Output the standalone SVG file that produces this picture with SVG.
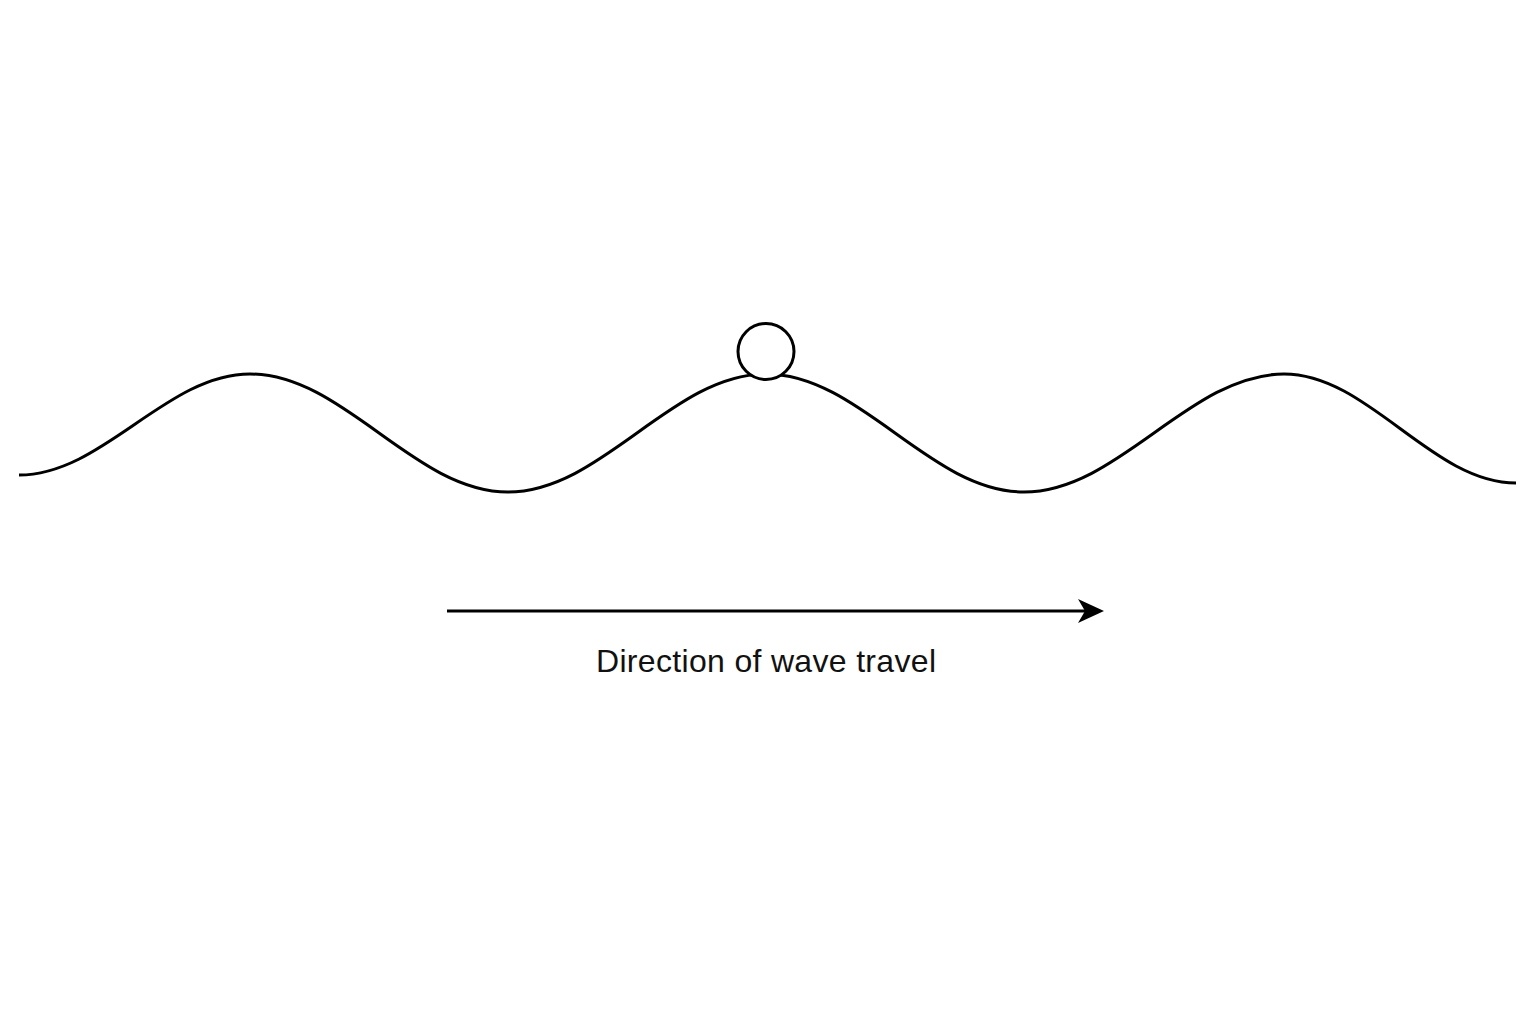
<svg xmlns="http://www.w3.org/2000/svg" width="1536" height="1024" viewBox="0 0 1536 1024">
<style>
.ln{fill:none;stroke:#000;stroke-width:3;stroke-linecap:butt}
.lbl{font-family:"Liberation Sans",Arial,sans-serif;font-size:32px;fill:#111}
</style>
<rect width="1536" height="1024" fill="#fff"/>
<g id="wave">
<path class="ln" d="M19,475 C102.9,475 166.1,374 250,374 C343.7,374 414.3,492 508,492 C601.7,492 672.3,374 766,374 C859.7,374 930.3,492 1024,492 C1118.4,492 1189.6,374 1284,374 C1368.2,374 1431.8,483 1516,483"/>
</g>
<g id="ball">
<circle class="ln" cx="766" cy="351.5" r="28" style="fill:#fff"/>
</g>
<g id="connectors">
<line class="ln" x1="447" y1="611" x2="1088" y2="611"/>
<polygon points="1104,611 1078,599 1085,611 1078,623" fill="#000"/>
</g>
<g id="label">
<text class="lbl" x="766" y="672" text-anchor="middle" textLength="340" lengthAdjust="spacing">Direction of wave travel</text>
</g>
</svg>
